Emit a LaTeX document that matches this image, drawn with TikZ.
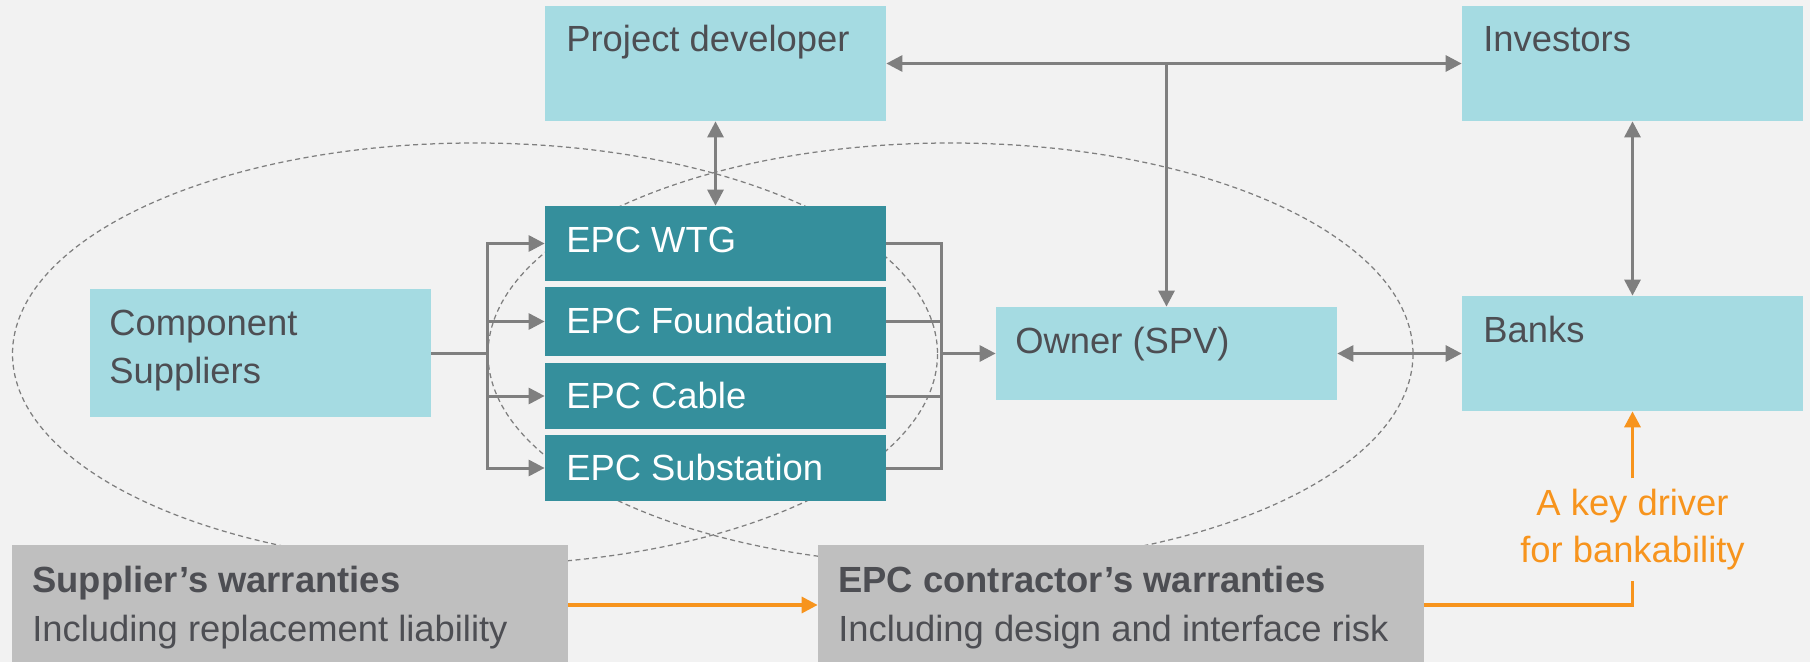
\documentclass[tikz,border=0pt]{standalone}
\usepackage{fontspec}
\setmainfont{Liberation Sans}
\usetikzlibrary{arrows.meta}
\definecolor{bg}{HTML}{F2F2F2}
\definecolor{lightbox}{HTML}{A5DBE2}
\definecolor{tealbox}{HTML}{358F9C}
\definecolor{warnbox}{HTML}{BFBFBF}
\definecolor{ink}{HTML}{4D4E53}
\definecolor{linkgray}{HTML}{7F7F7F}
\definecolor{amber}{HTML}{F7941D}

\begin{document}
\begin{tikzpicture}[x=0.2mm,y=-0.2mm,
	boxbase/.style={inner sep=0pt, minimum width=68.2mm},
	party/.style={boxbase, fill=lightbox},
	epc/.style={boxbase, fill=tealbox},
	warranty/.style={inner sep=0pt, fill=warnbox, minimum height=24mm},
	txt/.style={inner sep=0pt, anchor=base west, text=ink, font=\fontsize{20.7}{27}\selectfont},
	boldtxt/.style={txt, font=\fontsize{20.7}{27}\selectfont\bfseries},
	link/.style={draw=linkgray, line width=0.6mm},
	amberline/.style={draw=amber, line width=0.65mm},
	arr/.style={-{Triangle[length=3.2mm,width=3.2mm]}},
	dblarr/.style={{Triangle[length=3.2mm,width=3.2mm]}-{Triangle[length=3.2mm,width=3.2mm]}},
	ring/.style={draw=linkgray, line width=0.25mm, dash pattern=on 1mm off 0.7mm},
	]
	\useasboundingbox (0,0) rectangle (1810,662);
	\fill[bg] (0,0) rectangle (1810,662);

	% the two scopes of warranty
	\draw[ring] (475,354) ellipse [x radius=462.5, y radius=211];
	\draw[ring] (950.5,354) ellipse [x radius=462.5, y radius=211];

	\node[party, minimum height=23mm] (dev) at (715.5,63.5) {};
	\node[party, minimum height=23mm] (inv) at (1632.5,63.5) {};
	\node[party, minimum height=23mm] (bank) at (1632.5,353.5) {};
	\node[party, minimum height=18.6mm] (spv) at (1166.5,353.5) {};
	\node[party, minimum height=25.6mm] (comp) at (260.5,353) {};
	\node[epc, minimum height=15mm] (wtg) at (715.5,243.5) {};
	\node[epc, minimum height=13.8mm] (fnd) at (715.5,321.5) {};
	\node[epc, minimum height=13.2mm] (cab) at (715.5,396) {};
	\node[epc, minimum height=13.2mm] (sub) at (715.5,468) {};
	\node[warranty, minimum width=111.2mm] (supw) at (290,605) {};
	\node[warranty, minimum width=121.2mm] (epcw) at (1121,605) {};

	\node[txt] (devt) at (566,52) {Project developer};
	\node[txt] (invt) at (1483,52) {Investors};
	\node[txt] (bankt) at (1483,342.5) {Banks};
	\node[txt] (spvt) at (1015,353) {Owner (SPV)};
	\node[txt, anchor=north west, align=left] (compt) at (109,310) {Component\\Suppliers};
	\node[txt, text=white] (wtgt) at (566,252) {EPC WTG};
	\node[txt, text=white] (fndt) at (566,333) {EPC Foundation};
	\node[txt, text=white] (cabt) at (566,408) {EPC Cable};
	\node[txt, text=white] (subt) at (566,480.5) {EPC Substation};
	\node[boldtxt] (supt) at (32,592.5) {Supplier’s warranties};
	\node[txt] (supd) at (32,641.5) {Including replacement liability};
	\node[boldtxt] (epct) at (838,592.5) {EPC contractor’s warranties};
	\node[txt] (epcd) at (838,641.5) {Including design and interface risk};
	\node[inner ysep=2mm, inner xsep=0pt, text=amber, align=center, font=\fontsize{20.7}{27.2}\selectfont] (kd) at (1632.5,529.5) {A key driver\\for bankability};

	\coordinate (fork) at (487,353);
	\coordinate (join) at (941,353.5);
	\coordinate (split) at (1166.5,63.5);

	\draw[link, dblarr] (dev) -- (wtg);
	\draw[link, dblarr] (dev) -- (inv);
	\draw[link, arr] (split) -- (spv);
	\draw[link, dblarr] (inv) -- (bank);
	\draw[link, dblarr] (spv) -- (bank);

	\draw[link] (comp) -- (fork);
	\draw[link, line cap=rect] (fork |- wtg.west) -- (fork |- sub.west);
	\foreach \e in {wtg,fnd,cab,sub}
		\draw[link, arr] (fork |- \e.west) -- (\e);
	\foreach \e in {wtg,fnd,cab,sub}
		\draw[link] (\e) -- (join |- \e.east);
	\draw[link, line cap=rect] (join |- wtg.east) -- (join |- sub.east);
	\draw[link, arr] (join) -- (spv);

	\draw[amberline, arr] (supw) -- (epcw);
	\draw[amberline] (epcw.east) -| (kd.south);
	\draw[amberline, arr] (kd.north) -- (bank.south);
\end{tikzpicture}
\end{document}
